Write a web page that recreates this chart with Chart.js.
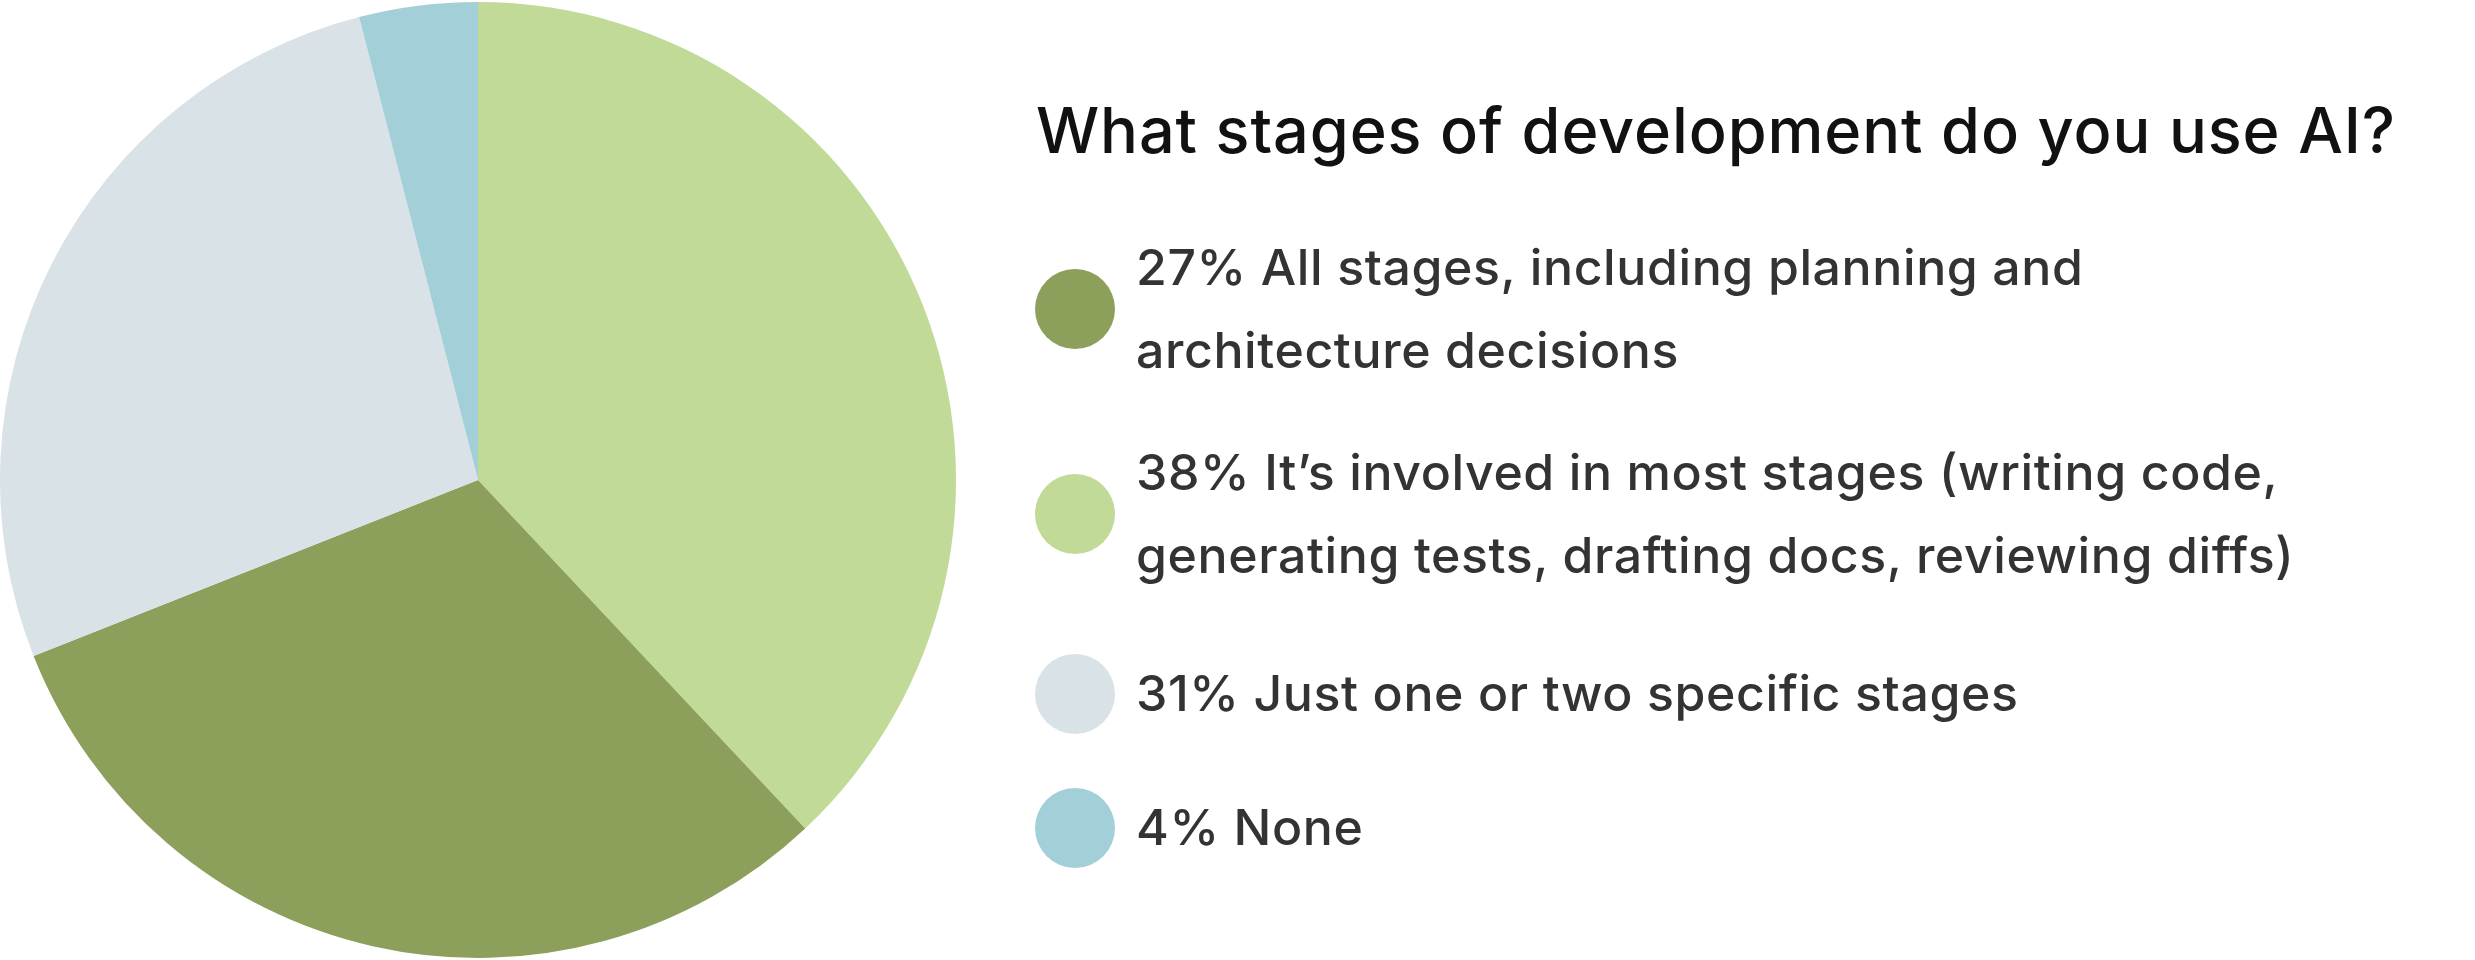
<!DOCTYPE html>
<html><head><meta charset="utf-8">
<script src="https://cdn.jsdelivr.net/npm/chart.js@4/dist/chart.umd.min.js"></script>
<style>
html,body{margin:0;padding:0;background:#fff;width:2475px;height:960px;overflow:hidden;font-family:Inter,"Noto Sans",sans-serif;}
#c{position:absolute;left:0;top:0;}
#title{position:absolute;left:1036px;top:92px;font-size:63px;font-weight:500;color:#111;white-space:nowrap;letter-spacing:0.9px}
.item{position:absolute;left:1035px;display:flex;align-items:center;}
.dot{width:80px;height:80px;border-radius:50%;flex:none;margin-right:21px;}
.txt{font-size:50px;line-height:83px;color:#333;font-weight:500;letter-spacing:0.6px;white-space:nowrap}
</style></head><body>
<canvas id="c" width="956" height="960"></canvas>
<div id="title">What stages of development do you use AI?</div>
<div id="legend"></div>
<script>
const labels=["It’s involved in most stages (writing code,<br>generating tests, drafting docs, reviewing diffs)","All stages, including planning and<br>architecture decisions","Just one or two specific stages","None"];
const percentLabels=["38%","27%","31%","4%"];
const values=[38,31,27,4];
const colors=["#c1da98","#8ca05b","#d9e2e7","#a3cfd9"];
const legendOrder=[1,0,2,3];
const legendTops=[226,431,652,786];
const lg=document.getElementById('legend');
legendOrder.forEach((i,k)=>{
  const d=document.createElement('div');d.className='item';d.style.top=legendTops[k]+'px';
  d.innerHTML=`<div class="dot" style="background:${colors[i]}"></div><div class="txt">${percentLabels[i]} ${labels[i]}</div>`;
  lg.appendChild(d);
});
new Chart(document.getElementById('c'),{type:'pie',
 data:{labels:percentLabels,datasets:[{data:values,backgroundColor:colors,borderWidth:0}]},
 options:{responsive:false,animation:false,layout:{padding:0},plugins:{legend:{display:false},tooltip:{enabled:false}}}});
</script>
</body></html>
